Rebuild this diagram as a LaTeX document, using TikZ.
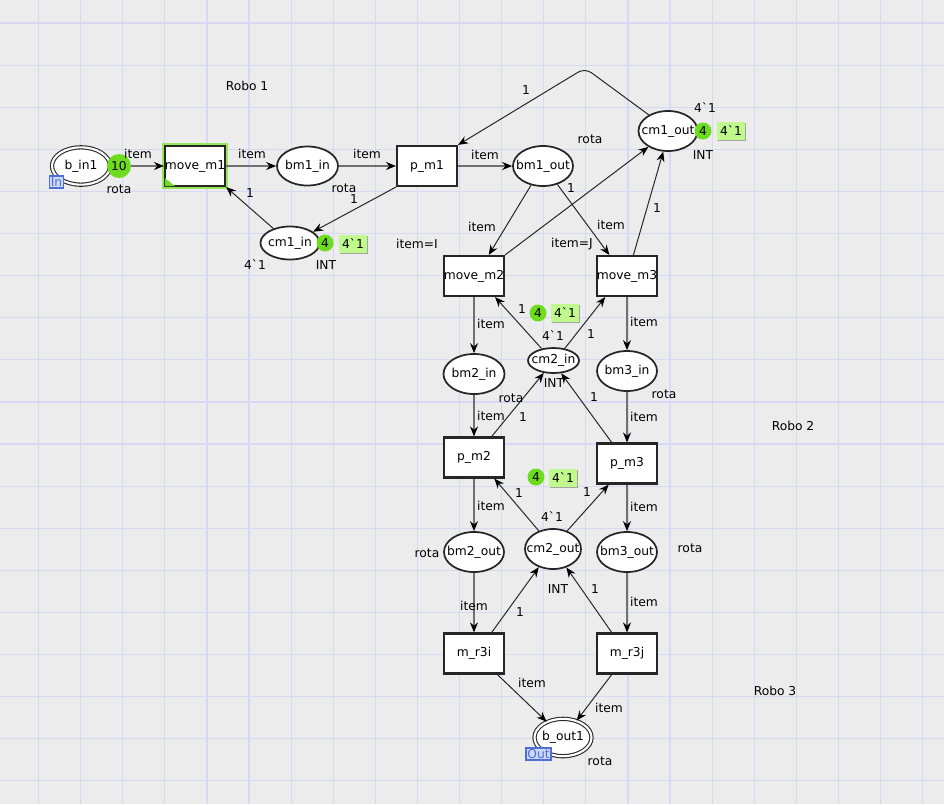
\documentclass[tikz,border=0pt]{standalone}
\usepackage{fontspec}
\setmainfont{DejaVu Sans}[Ligatures=TeXOff]
\usepackage{tikz}
\usetikzlibrary{arrows.meta,shapes.geometric,shadows}
\definecolor{bgcol}{RGB}{236,236,236}
\definecolor{gridcol}{RGB}{216,216,246}
\definecolor{tokgreen}{RGB}{110,220,30}
\definecolor{markgreen}{RGB}{192,250,142}
\definecolor{glowgreen}{RGB}{150,230,90}
\definecolor{portblue}{RGB}{80,110,215}
\definecolor{portfill}{RGB}{205,215,248}
\definecolor{arcgrey}{RGB}{112,112,112}
\definecolor{arcdark}{RGB}{40,40,40}
\newcommand\pn[1]{\makebox[0pt]{#1}}

\begin{document}
\begin{tikzpicture}[
    x=0.75pt, y=-0.75pt,
    every node/.style={font=\fontsize{9.2}{10.5}\selectfont, inner sep=0pt},
    place/.style={ellipse, draw=black!85, line width=1.3pt, fill=white, minimum width=45pt, minimum height=30pt},
    port/.style={place, double=white, double distance=1.6pt, line width=0.8pt, minimum width=43.5pt, minimum height=28pt},
    trans/.style={rectangle, draw=black!85, line width=1.6pt, fill=white, minimum width=45pt, minimum height=30pt},
    tok/.style={circle, fill=tokgreen, minimum size=12.75pt},
    initmark/.style={rectangle, fill=markgreen, minimum width=21pt, minimum height=13.5pt,
      drop shadow={shadow xshift=0.8pt, shadow yshift=-0.8pt, opacity=0.3, fill=black}},
    portlbl/.style={rectangle, draw=portblue, fill=portfill, text=portblue, line width=0.9pt, minimum height=9pt, inner xsep=1pt},
    arr/.style={-{Stealth[length=7.5pt,width=6pt,inset=2.5pt,color=black]}, line width=0.75pt, arcdark},
    garr/.style={arr, line width=1.5pt, arcgrey}
  ]
    \useasboundingbox (0,0) rectangle (944,804);
    \fill[bgcol] (0,0) rectangle (944,804);
    \foreach \k in {0,...,21}
      \draw[gridcol, line width=0.9pt] (38.5+42.1*\k,0) -- (38.5+42.1*\k,804);
    \foreach \k in {0,...,18}
      \draw[gridcol, line width=0.9pt] (0,23+42.1*\k) -- (944,23+42.1*\k);

    \node[port] (bin1) at (81,166) {\pn{b\_in1}};
    \node[trans, preaction={draw=glowgreen, line width=4.5pt}] (movem1) at (195,166) {\pn{move\_m1}};
    \fill[tokgreen] (movem1.south west) ++(1,-9) -- ++(0,8) -- ++(10,0) -- cycle;
    \node[place, minimum width=45.75pt, minimum height=29.25pt] (bm1in) at (307.5,166) {\pn{bm1\_in}};
    \node[trans] (pm1) at (427,166) {p\_m1};
    \node[place] (bm1out) at (543,166) {\pn{bm1\_out}};
    \node[place, minimum width=44.25pt, minimum height=24.75pt] (cm1in) at (290,243) {\pn{cm1\_in}};
    \node[place, minimum width=44.25pt] (cm1out) at (668,131) {\pn{cm1\_out}};
    \node[trans] (movem2) at (474,276) {\pn{move\_m2}};
    \node[trans] (movem3) at (627,276) {\pn{move\_m3}};
    \node[place, minimum width=45.75pt] (bm2in) at (474,374) {\pn{bm2\_in}};
    \node[place, minimum width=38.25pt, minimum height=18.75pt] (cm2in) at (553.5,360.5) {\pn{cm2\_in}};
    \node[place] (bm3in) at (627,371) {\pn{bm3\_in}};
    \node[trans] (pm2) at (474,457.5) {p\_m2};
    \node[trans] (pm3) at (627,463.5) {p\_m3};
    \node[place] (bm2out) at (474,552) {\pn{bm2\_out}};
    \node[place, minimum width=42pt] (cm2out) at (553,549) {\pn{cm2\_out}};
    \node[place] (bm3out) at (627,552) {\pn{bm3\_out}};
    \node[trans] (mr3i) at (474,653.5) {m\_r3i};
    \node[trans] (mr3j) at (627,653.5) {m\_r3j};
    \node[port, minimum width=42.75pt, minimum height=28pt] (bout1) at (563,737.5) {\pn{b\_out1}};

    \draw[garr] (bin1) -- (movem1);
    \draw[garr] (movem1) -- (bm1in);
    \draw[garr] (bm1in) -- (pm1);
    \draw[garr] (pm1) -- (bm1out);
    \draw[arr] (cm1in.139) -- (movem1.south east);
    \draw[arr] (pm1.south west) -- (cm1in.26);
    \coordinate (bend) at (585,68);
    \draw[arr, rounded corners=6pt] (cm1out.140) -- (bend) -- (pm1.north east);
    \draw[arr] (bm1out.238) -- (movem2.55);
    \draw[arr] (bm1out.308) -- (movem3.130);
    \draw[arr] (movem2.north east) -- (cm1out.219);
    \draw[arr] (movem3.73) -- (cm1out.257);
    \draw[garr] (movem2) -- (bm2in);
    \draw[garr] (bm2in) -- (pm2);
    \draw[garr] (pm2) -- (bm2out);
    \draw[garr] (bm2out) -- (mr3i);
    \draw[garr] (movem3) -- (bm3in);
    \draw[garr] (bm3in) -- (pm3);
    \draw[garr] (pm3) -- (bm3out);
    \draw[garr] (bm3out) -- (mr3j);
    \draw[arr] (cm2in.135) -- (movem2.-45);
    \draw[arr] (cm2in.47) -- (movem3.224);
    \draw[arr] (pm2.50) -- (cm2in.232);
    \draw[arr] (pm3.126) -- (cm2in.301);
    \draw[arr] (cm2out.128) -- (pm2.314);
    \draw[arr] (cm2out.52) -- (pm3.229);
    \draw[arr] (mr3i.50) -- (cm2out.232);
    \draw[arr] (mr3j.126) -- (cm2out.306);
    \draw[arr] (mr3i.318) -- (bout1.136);
    \draw[arr] (mr3j.234) -- (bout1.51);

    \node[tok, minimum width=18pt] (bin1tok) at (119,166) {10};
    \node[tok] (cm1intok) at (325,243) {4};
    \node[initmark] (cm1inmark) at (353,244) {4`1};
    \node[tok] (cm1outtok) at (703,131) {4};
    \node[initmark] (cm1outmark) at (731,131) {4`1};
    \node[tok] (cm2intok) at (538,313) {4};
    \node[initmark] (cm2inmark) at (565,312.5) {4`1};
    \node[tok] (cm2outtok) at (536,477) {4};
    \node[initmark] (cm2outmark) at (563,477.5) {4`1};
    \node[portlbl] (inlbl) at (56.5,182) {In};
    \node[portlbl] (outlbl) at (538.5,754) {Out};

    \node (robo1) at (247,86) {Robo 1};
    \node (robo2) at (793,426) {Robo 2};
    \node (robo3) at (775,691) {Robo 3};
    \node (bin1col) at (119,189) {rota};
    \node (bm1incol) at (344,188) {rota};
    \node (bm1outcol) at (590,139) {rota};
    \node (bm2incol) at (511,398) {rota};
    \node (bm3incol) at (664,394) {rota};
    \node (bm2outcol) at (427,553) {rota};
    \node (bm3outcol) at (690,548) {rota};
    \node (bout1col) at (600,761) {rota};
    \node (cm1incol) at (326,265) {INT};
    \node (cm1outcol) at (703,155) {INT};
    \node (cm2incol) at (554,383) {INT};
    \node (cm2outcol) at (558,589) {INT};
    \node (cm1ininit) at (255,265) {4`1};
    \node (cm1outinit) at (705,108) {4`1};
    \node (cm2ininit) at (553,336) {4`1};
    \node (cm2outinit) at (552,517) {4`1};
    \node (guardm2) at (417,244) {item=I};
    \node (guardm3) at (572,244) {item=J};

    \node (e1) at (138,154) {item};
    \node (e2) at (252,154) {item};
    \node (e3) at (367,154) {item};
    \node (e4) at (485,155) {item};
    \node (e5) at (250,193) {1};
    \node (e6) at (354,199) {1};
    \node (e7) at (526,90) {1};
    \node (e8) at (482,227) {item};
    \node (e9) at (611,225) {item};
    \node (e10) at (571,188) {1};
    \node (e11) at (657,208) {1};
    \node (e12) at (491,324) {item};
    \node (e13) at (644,322) {item};
    \node (e14) at (522,309) {1};
    \node (e15) at (591,334) {1};
    \node (e16) at (523,417) {1};
    \node (e17) at (594,397) {1};
    \node (e18) at (491,416) {item};
    \node (e19) at (644,417) {item};
    \node (e20) at (519,493) {1};
    \node (e21) at (587,492) {1};
    \node (e22) at (491,506) {item};
    \node (e23) at (644,507) {item};
    \node (e24) at (474,606) {item};
    \node (e25) at (644,602) {item};
    \node (e26) at (520,612) {1};
    \node (e27) at (595,589) {1};
    \node (e28) at (532,683) {item};
    \node (e29) at (609,708) {item};
  \end{tikzpicture}
\end{document}
